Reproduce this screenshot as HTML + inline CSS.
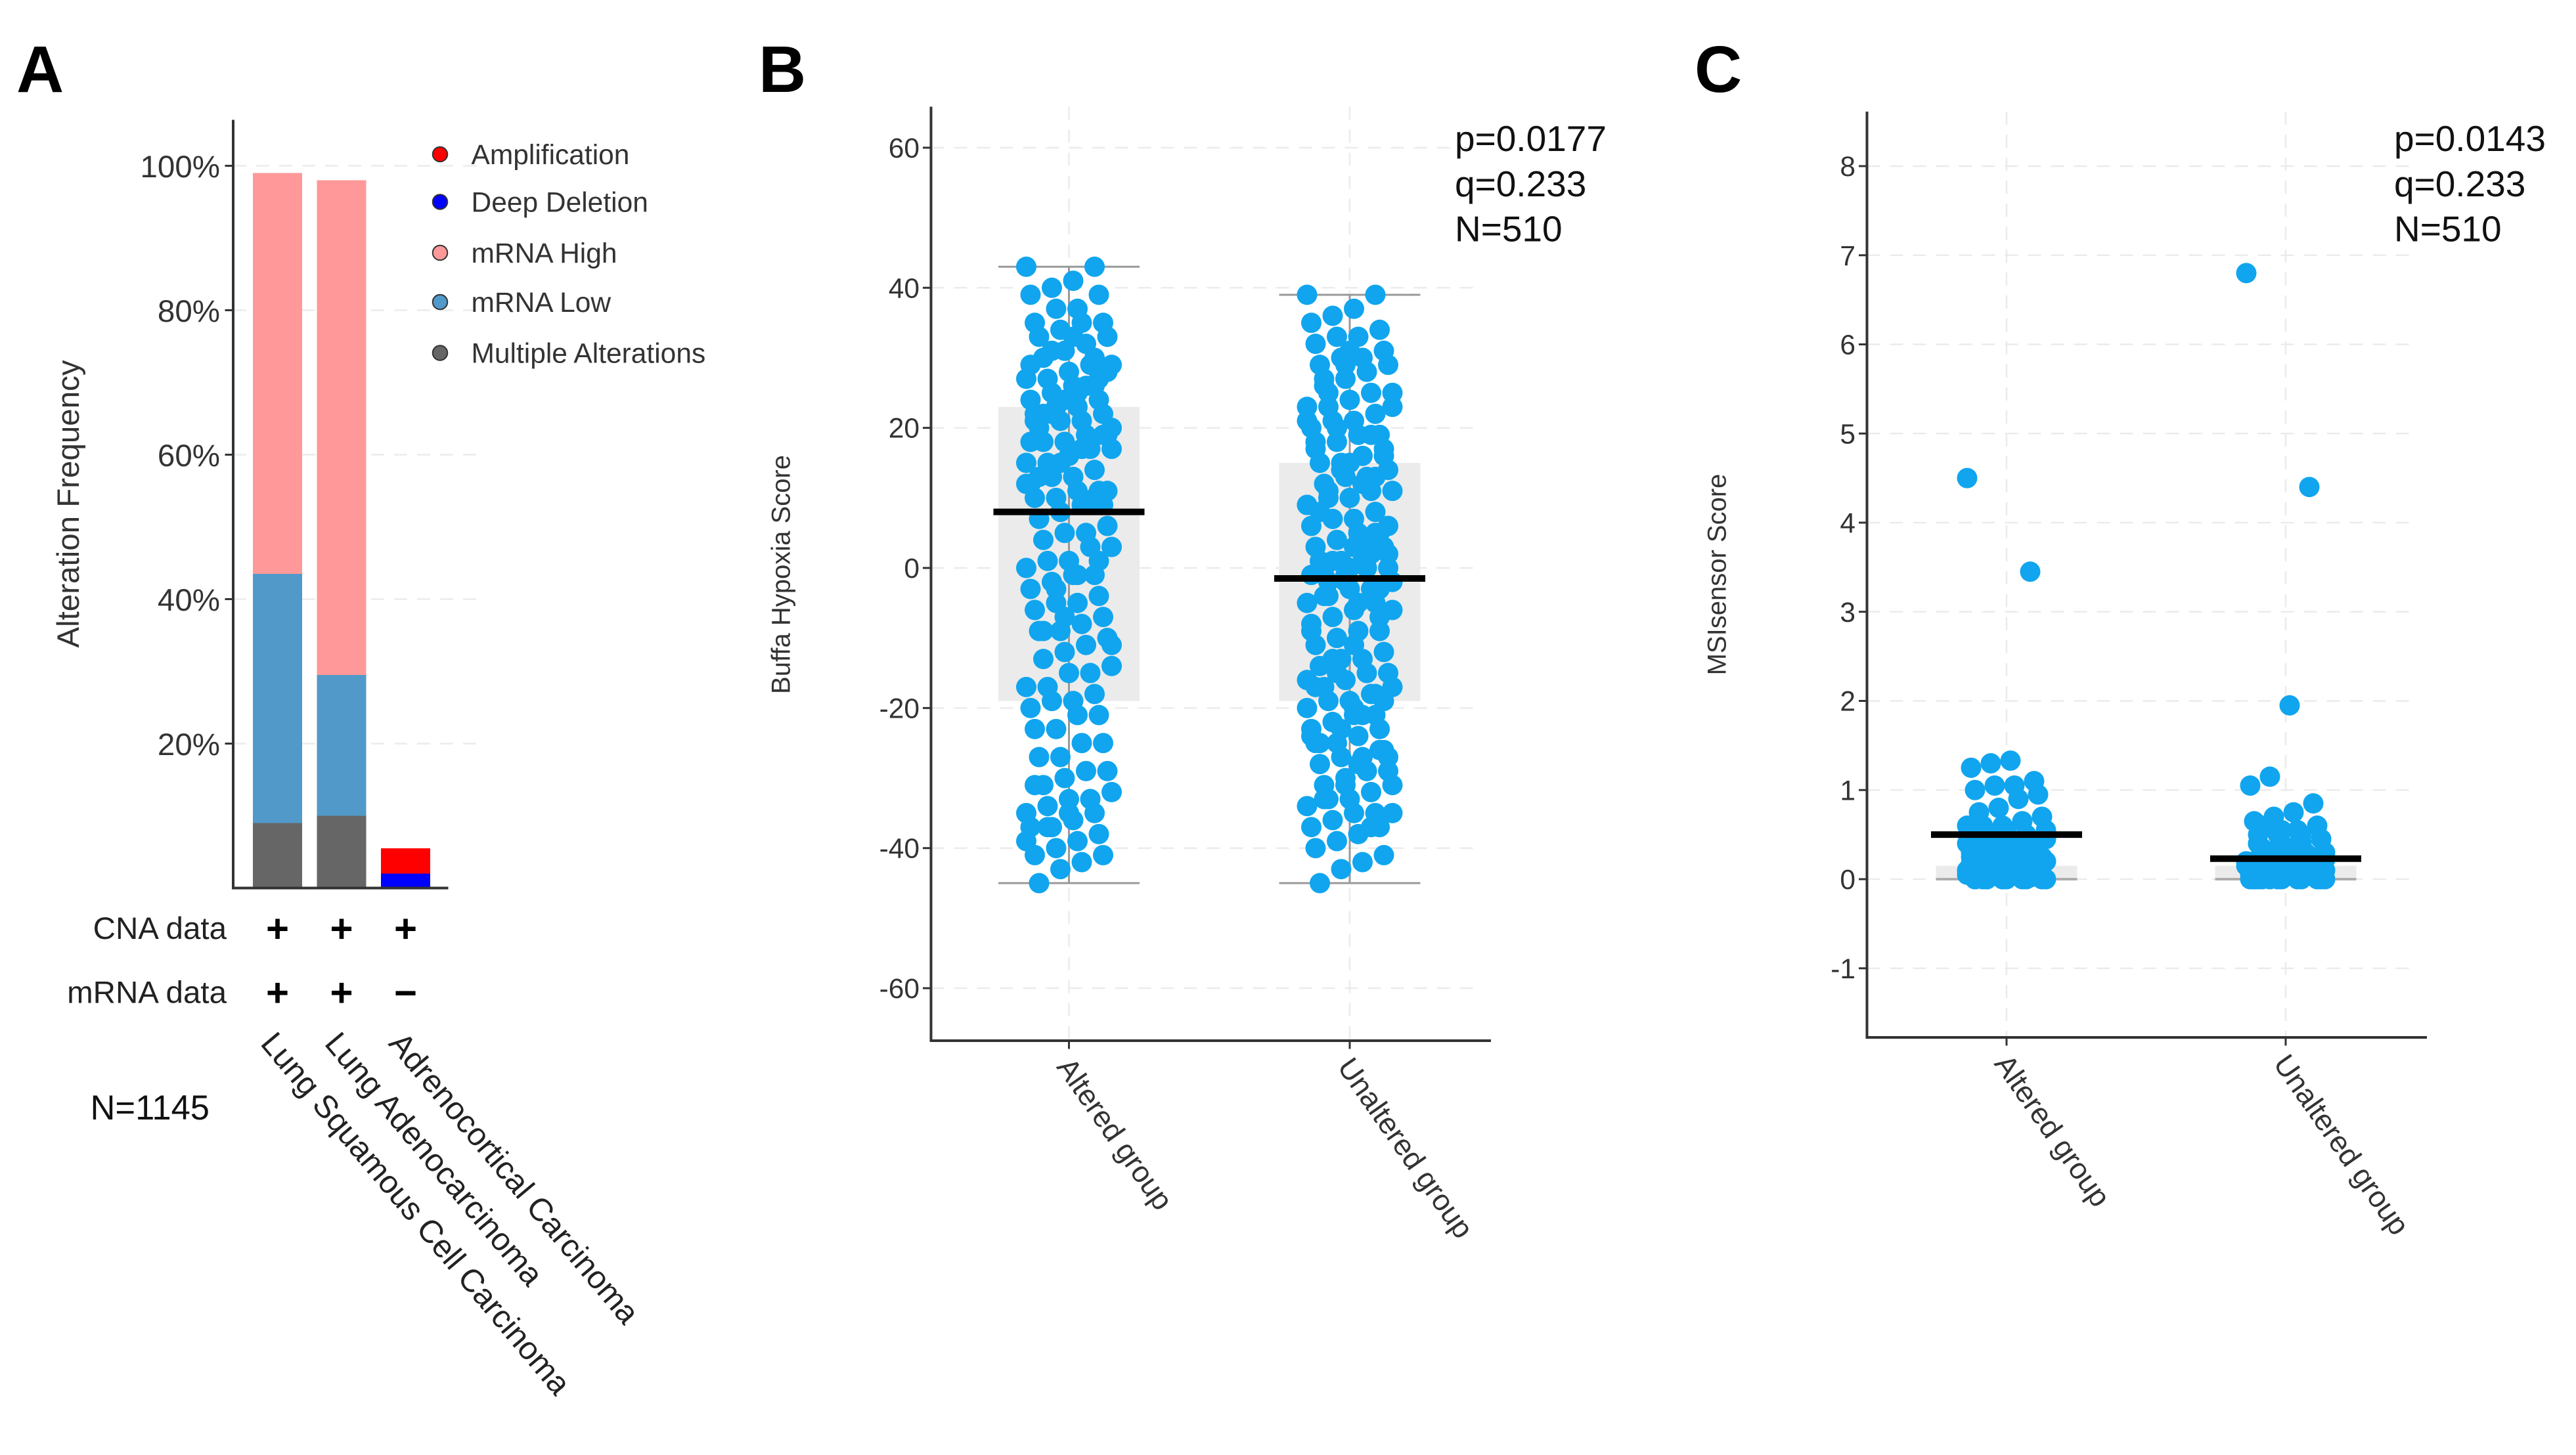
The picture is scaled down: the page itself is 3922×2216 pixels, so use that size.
<!DOCTYPE html>
<html><head><meta charset="utf-8"><style>
html,body{margin:0;padding:0;background:#fff}
svg{display:block;font-family:"Liberation Sans",Arial,sans-serif}
</style></head><body>
<svg id="fig" width="3922" height="2216" viewBox="0 0 1568.8 886.4" xmlns="http://www.w3.org/2000/svg">
<g id="pa"></g>
<g id="pb"></g>
<g id="pc"></g>
</svg>
<script>
// Panel A data
const aCategories = ["Lung Squamous Cell Carcinoma","Lung Adenocarcinoma","Adrenocortical Carcinoma"];
const aSeriesNames = ["Deep Deletion","Multiple Alterations","mRNA Low","mRNA High","Amplification"];
const aDeepDel = [0,0,2];
const aMultiple = [9,10,0];
const aLow = [34.5,19.5,0];
const aHigh = [55.5,68.5,0];
const aAmp = [0,0,3.5];
const aTicks = [20,40,60,80,100];
const aCNA = ["+","+","+"];
const aMRNA = ["+","+","−"];
// Panel B data
const bGroups = ["Altered group","Unaltered group"];
const bTicks = [-60,-40,-20,0,20,40,60];
const bAltered = [43,43,41,40,39,39,37,37,35,35,35,34,33,33,32,31,30,29,29,28,27,27,26,25,25,24,24,23,23,22,22,21,21,20,19,19,18,18,17,17,16,15,15,14,13,13,12,11,11,10,10,9,9,8,7,6,5,5,4,3,3,1,1,0,-1,-1,-2,-3,-4,-5,-5,-6,-7,-8,-9,-9,-10,-11,-12,-13,-14,-15,-15,-17,-17,-18,-19,-19,-20,-21,-21,-23,-23,-25,-25,-27,-27,-29,-29,-30,-31,-32,-33,-33,-34,-35,-35,-36,-37,-37,-38,-39,-40,-41,-41,-42,-43,-45,28,26,24,22,20,18,16,14,12,10,33,31,29,27,25,23,21,19,17,15,13,11,9,-7,-9,-11,-33,-35,-37,-39,30,26,22,18,1,-1,-3,-31];
const bUnaltered = [39,39,37,36,35,34,33,33,32,31,30,30,29,29,28,27,26,25,25,24,23,23,22,21,21,20,19,19,18,17,17,16,15,15,14,13,13,12,11,11,10,10,9,8,7,7,6,5,5,4,3,3,2,1,1,0,0,-1,-1,-2,-3,-3,-4,-5,-5,-6,-7,-8,-9,-9,-10,-11,-12,-13,-13,-14,-15,-15,-16,-17,-17,-18,-19,-19,-20,-21,-21,-22,-23,-23,-24,-25,-25,-26,-27,-27,-28,-29,-29,-30,-31,-31,-32,-33,-33,-34,-35,-35,-36,-37,-37,-38,-39,-40,-41,-42,-43,-45,2,0,-2,-4,-6,2,0,-2,-16,-18,-20,-22,-24,-26,-28,20,18,16,12,14,8,6,4,29,27,23,19,15,11,9,5,3,1,-1,-3,-5,-15,-17,-19,-21,-23,-25,-27,-29,-31,-33,-35,-37,31,25,21,13,-11,-13,-9,-7];
const bStats = ["p=0.0177","q=0.233","N=510"];
const bMedian = [8,-1.5];
const bQ1 = [-19,-19], bQ3 = [23,15], bMin = [-45,-45], bMax = [43,39];
// Panel C data
const cTicks = [-1,0,1,2,3,4,5,6,7,8];
const cAltered = [4.5,3.45,1.33,1.3,1.25,1.1,1.05,1.05,1.0,0.95,0.9,0.8,0.75,0.7,0.65,0.6,0.6,0.55,0.5,0.5,0.45,0.4,0.4,0.35,0.3,0.3,0.25,0.2,0.2,0.15,0.1,0.1,0.05,0.05,0,0,0,0,0,0,0,0,0.1,0.2,0.3,0.15,0.05,0.25,0.35,0.45,0,0.05,0.1,0.15,0.2,0.25,0.3,0.35,0.4,0.45,0.5,0.55,0,0.05,0.1,0.15,0.2,0.25,0.3,0.35,0.4,0,0.1,0.2,0.3,0.05,0.15,0.25,0,0.1,0.2,0.3,0.4,0.5,0.6,0.02,0.08,0.12,0.18];
const cUnaltered = [6.8,4.4,1.95,1.15,1.05,0.85,0.75,0.7,0.65,0.6,0.55,0.5,0.5,0.45,0.4,0.4,0.35,0.3,0.3,0.25,0.25,0.2,0.2,0.15,0.15,0.1,0.1,0.05,0.05,0,0,0,0,0,0,0,0,0,0.1,0.2,0.3,0.05,0.15,0.25,0.35,0.1,0,0.05,0.1,0.15,0.2,0.25,0.3,0.35,0.4,0.45,0.5,0.55,0.6,0,0.05,0.1,0.15,0.2,0.25,0.3,0,0.05,0.1,0.15,0.2,0,0.1,0.2,0.3,0.4,0.02,0.08,0.12,0.18,0.22,0.28];
const cStats = ["p=0.0143","q=0.233","N=510"];
const cMedian = [0.5,0.23];
const cQ1 = [0,0], cQ3 = [0.15,0.15];

const NS="http://www.w3.org/2000/svg";
function mk(parent,tag,attrs,text){const e=document.createElementNS(NS,tag);for(const k in attrs)e.setAttribute(k,attrs[k]);if(text!==undefined)e.textContent=text;parent.appendChild(e);return e;}

// ---------- Panel A ----------
const pa=document.getElementById('pa');
const aY=v=>541-v*4.4;
const aX=i=>154+i*39;
const aBW=30;
let t=mk(pa,'text',{x:10,y:56,'font-size':40,'font-weight':'bold'},"A");


aTicks.forEach(v=>{
  let g=mk(pa,'line',{x1:142,x2:292,y1:aY(v),y2:aY(v),stroke:'#ececec','stroke-dasharray':'8,6','stroke-width':1});
  
  
  let tk=mk(pa,'line',{x1:137,x2:142,y1:aY(v),y2:aY(v),stroke:'#333','stroke-width':1.2});
  
  
  let l=mk(pa,'text',{x:134,y:aY(v)+7,'font-size':19,'text-anchor':'end',fill:'#333'},v+"%");
  
  
});
const aStacks=[[aDeepDel,'#0000ff'],[aMultiple,'#666666'],[aLow,'#5199c8'],[aHigh,'#ff9999'],[aAmp,'#ff0000']];
aCategories.forEach((c,i)=>{
  let base=0;
  aStacks.forEach(([arr,col],k)=>{
    const v=arr[i]; if(v<=0)return;
    let r=mk(pa,'rect',{x:aX(i),y:aY(base+v),width:aBW,height:aY(base)-aY(base+v),fill:col});
    
    
    base+=v;
  });
  let p1=mk(pa,'text',{x:aX(i)+aBW/2,y:574,'font-size':24,'font-weight':'bold','text-anchor':'middle'},aCNA[i]);
  
  
  let p2=mk(pa,'text',{x:aX(i)+aBW/2,y:613,'font-size':24,'font-weight':'bold','text-anchor':'middle'},aMRNA[i]);
  
  
  let cl=mk(pa,'text',{x:0,y:0,'font-size':19.5,fill:'#222',transform:`translate(${aX(i)+4},${636}) rotate(50)`},c);
  
  
});
let ax=mk(pa,'path',{d:'M142,73 V541 H273',fill:'none',stroke:'#333','stroke-width':1.6});


let yt=mk(pa,'text',{x:0,y:0,'font-size':19,fill:'#333','text-anchor':'middle',transform:'translate(48,307) rotate(-90)'},"Alteration Frequency");


const legCols=['#ff0000','#0000ff','#ff9999','#5199c8','#666666'];
const legNames=['Amplification','Deep Deletion','mRNA High','mRNA Low','Multiple Alterations'];
const legY=[94,123,154,184,215];
legNames.forEach((n,i)=>{
  let d=mk(pa,'circle',{cx:268,cy:legY[i],r:4.5,fill:legCols[i],stroke:'#333','stroke-width':0.8});
  
  
  let lt=mk(pa,'text',{x:287,y:legY[i]+6,'font-size':17,fill:'#333'},n);
  
  
});
let r1=mk(pa,'text',{x:138,y:572,'font-size':19,'text-anchor':'end',fill:'#222'},"CNA data");


let r2=mk(pa,'text',{x:138,y:611,'font-size':19,'text-anchor':'end',fill:'#222'},"mRNA data");


let nn=mk(pa,'text',{x:55,y:682,'font-size':21,fill:'#111'},"N=1145");



// ---------- Box/scatter panel helper ----------
function jit(i){return ((i*37)%21)/10-1;}
function panel(g,o){
  const Y=v=>o.y0-v*o.k;
  let L=mk(g,'text',{x:o.lx,y:56,'font-size':40,'font-weight':'bold'},o.letter);
  
  
  o.ticks.forEach(v=>{
    let gl=mk(g,'line',{x1:o.ax,x2:o.ax2-6,y1:Y(v),y2:Y(v),stroke:'#ebebeb','stroke-dasharray':'8,6'});
    
    
    let tk=mk(g,'line',{x1:o.ax-5,x2:o.ax,y1:Y(v),y2:Y(v),stroke:'#333','stroke-width':1.2});
    
    
    let tl=mk(g,'text',{x:o.ax-7,y:Y(v)+6,'font-size':17,'text-anchor':'end',fill:'#333'},v);
    
    
  });
  o.groups.forEach((gn,i)=>{
    const cx=o.gx[i];
    let vg=mk(g,'line',{x1:cx,x2:cx,y1:o.top,y2:o.bot,stroke:'#ebebeb','stroke-dasharray':'8,6'});
    
    
    let bx=mk(g,'rect',{x:cx-43,y:Y(o.q3[i]),width:86,height:Y(o.q1[i])-Y(o.q3[i]),fill:'#ebebeb'});
    
    
    if(o.mx){
      let w=mk(g,'path',{d:`M${cx-43},${Y(o.mx[i])}H${cx+43}M${cx},${Y(o.mx[i])}V${Y(o.mn[i])}M${cx-43},${Y(o.mn[i])}H${cx+43}`,stroke:'#999',fill:'none','stroke-width':1.2});
      
      
    } else {
      let w=mk(g,'line',{x1:cx-43,x2:cx+43,y1:Y(0),y2:Y(0),stroke:'#aaa','stroke-width':1.5});
      
      
    }
    o.data[i].forEach((v,j)=>{
      let c=mk(g,'circle',{cx:cx+jit(j)*o.jw,cy:Y(v),r:6.2,fill:'#10a5ee'});
      
      
    });
    let md=mk(g,'line',{x1:cx-46,x2:cx+46,y1:Y(o.med[i]),y2:Y(o.med[i]),stroke:'#000','stroke-width':4});
    
    
    let xl=mk(g,'text',{x:0,y:0,'font-size':18,fill:'#333',transform:`translate(${cx-8},${o.bot+16}) rotate(55)`},gn);
    
    
    let xt=mk(g,'line',{x1:cx,x2:cx,y1:o.bot,y2:o.bot+5,stroke:'#333','stroke-width':1.2});
    
    
  });
  let axp=mk(g,'path',{d:`M${o.ax},${o.top} V${o.bot} H${o.ax2}`,fill:'none',stroke:'#333','stroke-width':1.6});
  
  
  let ytl=mk(g,'text',{x:0,y:0,'font-size':16,fill:'#333','text-anchor':'middle',transform:`translate(${o.ytx},350) rotate(-90)`},o.ytitle);
  
  
  o.stats.forEach((s,i)=>{
    let st=mk(g,'text',{x:o.sx,y:92+i*27.5,'font-size':22,fill:'#111'},s);
    
    
  });
}
panel(document.getElementById('pb'),{letter:'B',lx:462,y0:346,k:4.267,ax:567,ax2:908,top:65,bot:634,ticks:bTicks,groups:bGroups,gx:[651,822],q1:bQ1,q3:bQ3,mn:bMin,mx:bMax,med:bMedian,data:[bAltered,bUnaltered],jw:26,ytitle:'Buffa Hypoxia Score',ytx:481,stats:bStats,sx:886});
panel(document.getElementById('pc'),{letter:'C',lx:1032,y0:535.6,k:54.3,ax:1137,ax2:1478,top:68,bot:632,ticks:cTicks,groups:bGroups,gx:[1222,1392],q1:cQ1,q3:cQ3,med:cMedian,data:[cAltered,cUnaltered],jw:24,ytitle:'MSIsensor Score',ytx:1051,stats:cStats,sx:1458});
</script>
</body></html>
